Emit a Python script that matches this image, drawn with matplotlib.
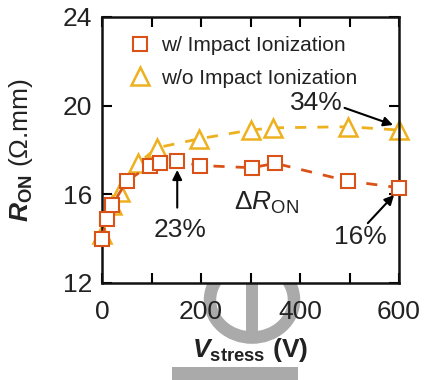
import matplotlib
matplotlib.use("Agg")
import matplotlib.pyplot as plt
from matplotlib.lines import Line2D
from matplotlib.patches import Circle, Rectangle

# ---- data ----
v_with = [0, 10, 20, 50, 97, 117, 152, 198, 303, 350, 497, 600]
r_with = [14.0, 14.9, 15.5, 16.6, 17.3, 17.4, 17.5, 17.3, 17.2, 17.4, 16.6, 16.3]
v_without = [0, 20, 37, 73, 111, 195, 300, 345, 497, 600]
r_without = [14.2, 15.5, 16.1, 17.4, 18.1, 18.5, 18.9, 19.0, 19.05, 18.9]
labels = ["w/ Impact Ionization", "w/o Impact Ionization"]
xticks = [0, 200, 400, 600]
yticks = [12, 16, 20, 24]

plt.rcParams['font.family'] = ['Liberation Sans', 'DejaVu Sans']
plt.rcParams['mathtext.fontset'] = 'custom'
plt.rcParams['mathtext.rm'] = 'Liberation Sans'
plt.rcParams['mathtext.it'] = 'Liberation Sans:italic'
plt.rcParams['mathtext.bf'] = 'Liberation Sans:bold'
plt.rcParams['mathtext.bfit'] = 'Liberation Sans:bold:italic'

c_red = '#D95319'
c_gold = '#EDB120'
tc = '#222222'

fig = plt.figure(figsize=(4.25, 3.8), dpi=100)
ax = fig.add_axes([102/425, 1-283/380, 297/425, 266/380])
ax.set_zorder(2)

# watermark behind axes
gray = '#aaaaaa'
fig.patches.append(Circle((252/425, 1-300/380), 42/425, transform=fig.transFigure,
                          fill=False, ec=gray, lw=9, zorder=0))
fig.patches.append(Rectangle((246/425, 1-334/380), 12/425, 54/380, transform=fig.transFigure,
                             fc=gray, ec='none', zorder=0))
fig.patches.append(Rectangle((172/425, 0), 126/425, 13/380, transform=fig.transFigure,
                             fc=gray, ec='none', zorder=0))

ax.plot(v_with, r_with, color=c_red, lw=2, dashes=(4, 4), marker='s', ms=10,
        mfc='white', mec=c_red, mew=1.5, clip_on=False, zorder=3)
ax.plot(v_without, r_without, color=c_gold, lw=2, dashes=(4, 4), marker='^', ms=13,
        mfc='white', mec=c_gold, mew=1.8, clip_on=False, zorder=2)

ax.set_xlim(0, 600)
ax.set_ylim(12, 24)
ax.set_xticks(xticks)
ax.set_xticks([100, 300, 500], minor=True)
ax.set_yticks(yticks)
ax.tick_params(which='both', direction='in', top=True, right=True, length=7, width=1.5,
               labelsize=19, labelcolor=tc, pad=7)
ax.tick_params(axis='x', which='both', pad=12)
for s in ax.spines.values():
    s.set_linewidth(1.8)
    s.set_color('#111111')

ax.set_ylabel(r'$\mathbfit{R}_{\mathbf{ON}}$ (Ω.mm)', fontsize=19, color=tc)
ax.yaxis.set_label_coords(-0.225, 0.5)
ax.set_xlabel(r'$\mathbfit{V}_{\mathbf{stress}}$ (V)', fontsize=19, fontweight='bold', color=tc)
ax.xaxis.set_label_coords(0.5, -0.2)

handles = [Line2D([], [], ls='none', marker='s', ms=10, mfc='white', mec=c_red, mew=1.5),
           Line2D([], [], ls='none', marker='^', ms=13, mfc='white', mec=c_gold, mew=1.8)]
ax.legend(handles, labels, loc='upper left', bbox_to_anchor=(0.05, 0.975), frameon=False,
          fontsize=15, handlelength=1.0, handletextpad=0.5, labelspacing=0.65,
          borderaxespad=0.2, labelcolor=tc)

ap = dict(arrowstyle='-|>', color='black', lw=1.5, mutation_scale=14, shrinkA=0, shrinkB=0)
ax.text(434, 20.12, '34%', fontsize=19, ha='center', va='center', color=tc)
ax.annotate('', xy=(588, 19.13), xytext=(490, 19.9), arrowprops=ap)
ax.text(158, 14.4, '23%', fontsize=19, ha='center', va='center', color=tc)
ax.annotate('', xy=(152, 17.1), xytext=(152, 15.4), arrowprops=ap)
ax.text(521, 14.08, '16%', fontsize=19, ha='center', va='center', color=tc)
ax.annotate('', xy=(590, 15.97), xytext=(537, 14.7), arrowprops=ap)
ax.text(333, 15.6, r'$\Delta R_{\mathrm{ON}}$', fontsize=19, ha='center', va='center', color=tc)

fig.savefig('out.png', dpi=100)
